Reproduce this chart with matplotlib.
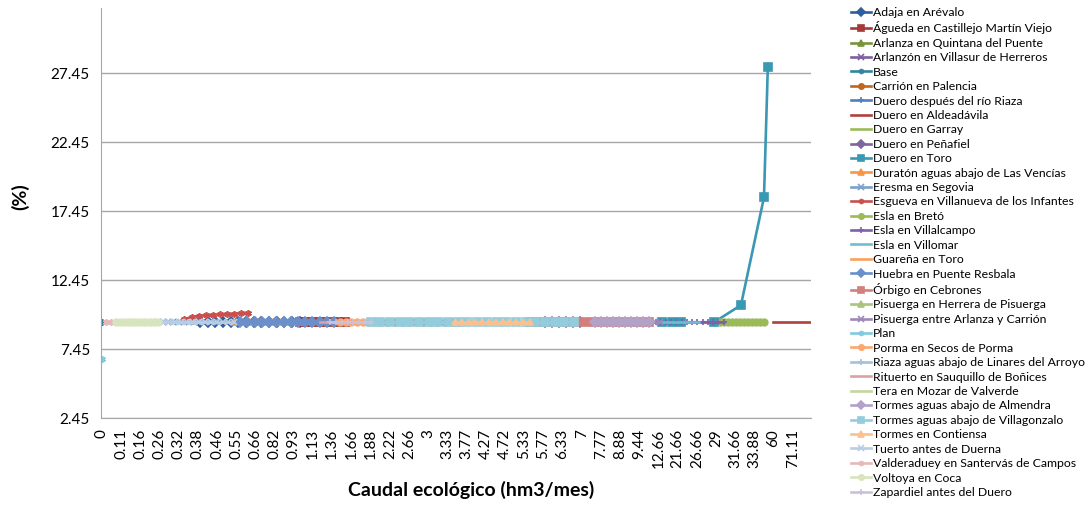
import numpy as np
import matplotlib.pyplot as plt

plt.rcParams['font.family'] = ['Lato', 'DejaVu Sans']

# Category labels shown on the x axis
x_labels = ["0", "0.11", "0.16", "0.26", "0.32", "0.38", "0.46", "0.55", "0.66",
            "0.82", "0.93", "1.13", "1.36", "1.66", "1.88", "2.22", "2.66", "3",
            "3.33", "3.77", "4.27", "4.72", "5.33", "5.77", "6.33", "7", "7.77",
            "8.88", "9.44", "12.66", "21.66", "26.66", "29", "31.66", "33.88",
            "60", "71.11"]

y_ticks = [2.45, 7.45, 12.45, 17.45, 22.45, 27.45]

series_names = [
    "Adaja en Arévalo", "Águeda en Castillejo Martín Viejo", "Arlanza en Quintana del Puente",
    "Arlanzón en Villasur de Herreros", "Base", "Carrión en Palencia",
    "Duero después del río Riaza", "Duero en Aldeadávila", "Duero en Garray",
    "Duero en Peñafiel", "Duero en Toro", "Duratón aguas abajo de Las Vencías",
    "Eresma en Segovia", "Esgueva en Villanueva de los Infantes", "Esla en Bretó",
    "Esla en Villalcampo", "Esla en Villomar", "Guareña en Toro",
    "Huebra en Puente Resbala", "Órbigo en Cebrones", "Pisuerga en Herrera de Pisuerga",
    "Pisuerga entre Arlanza y Carrión", "Plan", "Porma en Secos de Porma",
    "Riaza aguas abajo de Linares del Arroyo", "Rituerto en Sauquillo de Boñices",
    "Tera en Mozar de Valverde", "Tormes aguas abajo de Almendra",
    "Tormes aguas abajo de Villagonzalo", "Tormes en Contiensa", "Tuerto antes de Duerna",
    "Valderaduey en Santervás de Campos", "Voltoya en Coca", "Zapardiel antes del Duero",
]

series_colors = [
    "#2f5e9c", "#a33b38", "#77933c", "#7b5fa0", "#31859c", "#c0661e",
    "#4f81bd", "#b0403d", "#9bbb59", "#8064a2", "#3b98b3", "#f79646",
    "#7ba0cd", "#c9504d", "#9bbb59", "#7f5fa8", "#6fbdd1", "#f9a05b",
    "#6a8fcb", "#d27f7d", "#a9c47f", "#9d88b9", "#7ecbdf", "#fba76d",
    "#a7bfde", "#dca09f", "#c3d69b", "#b3a2c7", "#93cddd", "#fac090",
    "#b9cde5", "#e6b9b8", "#d7e4bd", "#ccc1da",
]

AST = (6, 2, 0)
series_markers = [
    "D", "s", "^", "x", AST, "o", "+", None, None,
    "D", "s", "^", "x", AST, "o", "+", None, None,
    "D", "s", "^", "x", AST, "o", "+", None, None,
    "D", "s", "^", "x", AST, "o", "+",
]

# Each run: first category position, last category position, values (%)
runs = {
    "Adaja en Arévalo": (5.1, 10.3, [9.4, 9.4, 9.4, 9.4, 9.4, 9.4, 9.4, 9.4, 9.4, 9.4, 9.4, 9.4, 9.4, 9.4]),
    "Águeda en Castillejo Martín Viejo": (10.3, 12.65, [9.4, 9.4, 9.4, 9.4, 9.4, 9.4, 9.4, 9.4]),
    "Arlanza en Quintana del Puente": (15.0, 16.6, [9.4, 9.4, 9.4, 9.4, 9.4, 9.4]),
    "Arlanzón en Villasur de Herreros": (25.9, 28.0, [9.4, 9.4, 9.4, 9.4, 9.4, 9.4, 9.4]),
    "Base": (0.0, 0.0, [9.4]),
    "Carrión en Palencia": (14.5, 18.6, [9.4, 9.4, 9.4, 9.4, 9.4, 9.4, 9.4, 9.4, 9.4, 9.4, 9.4, 9.4]),
    "Duero después del río Riaza": (7.2, 9.8, [9.4, 9.4, 9.4, 9.4, 9.4, 9.4, 9.4, 9.4]),
    "Duero en Aldeadávila": (34.95, 36.95, [9.4, 9.4, 9.4, 9.4]),
    "Duero en Garray": (15.3, 17.9, [9.4, 9.4, 9.4, 9.4, 9.4]),
    "Duero en Peñafiel": (23.1, 24.9, [9.4, 9.4, 9.4, 9.4, 9.4, 9.4]),
    "Duero en Toro": (29.2, 34.7, [9.4, 9.4, 9.4, 9.4, 10.64, 18.46, 27.9]),
    "Duratón aguas abajo de Las Vencías": (6.9, 11.35, [9.4, 9.4, 9.4, 9.4, 9.4, 9.4, 9.4, 9.4, 9.4, 9.4, 9.4, 9.4]),
    "Eresma en Segovia": (2.9, 5.9, [9.4, 9.4, 9.4, 9.4, 9.4, 9.4, 9.4, 9.4, 9.4, 9.4, 9.4, 9.4]),
    "Esgueva en Villanueva de los Infantes": (4.3, 7.6, [9.62, 9.78, 9.86, 9.9, 9.94, 9.97, 10.0, 10.02, 10.05, 10.08]),
    "Esla en Bretó": (32.2, 34.5, [9.4, 9.4, 9.4, 9.4, 9.4, 9.4, 9.4, 9.4, 9.4, 9.4, 9.4, 9.4]),
    "Esla en Villalcampo": (28.3, 32.4, [9.4, 9.4, 9.4, 9.4, 9.4, 9.4, 9.4, 9.4, 9.4, 9.4, 9.4, 9.4, 9.4, 9.4, 9.4, 9.4]),
    "Esla en Villomar": (29.1, 31.1, [9.4, 9.4, 9.4, 9.4]),
    "Guareña en Toro": (10.3, 11.9, [9.4, 9.4, 9.4, 9.4]),
    "Huebra en Puente Resbala": (7.2, 12.1, [9.4, 9.4, 9.4, 9.4, 9.4, 9.4, 9.4, 9.4, 9.4, 9.4, 9.4, 9.4, 9.4, 9.4]),
    "Órbigo en Cebrones": (22.3, 28.5, [9.4, 9.4, 9.4, 9.4, 9.4, 9.4, 9.4, 9.4, 9.4, 9.4, 9.4, 9.4, 9.4, 9.4]),
    "Pisuerga en Herrera de Pisuerga": (19.2, 20.2, [9.4, 9.4, 9.4, 9.4]),
    "Pisuerga entre Arlanza y Carrión": (26.7, 29.1, [9.4, 9.4, 9.4, 9.4, 9.4, 9.4, 9.4, 9.4]),
    "Plan": (0.0, 0.0, [6.7]),
    "Porma en Secos de Porma": (12.4, 14.2, [9.4, 9.4, 9.4, 9.4, 9.4, 9.4, 9.4]),
    "Riaza aguas abajo de Linares del Arroyo": (3.0, 5.1, [9.4, 9.4, 9.4, 9.4, 9.4, 9.4, 9.4, 9.4]),
    "Rituerto en Sauquillo de Boñices": (11.35, 12.4, [9.4, 9.4, 9.4]),
    "Tera en Mozar de Valverde": (0.7, 3.0, [9.4, 9.4, 9.4, 9.4]),
    "Tormes aguas abajo de Almendra": (25.7, 28.5, [9.4, 9.4, 9.4, 9.4, 9.4, 9.4, 9.4, 9.4, 9.4, 9.4]),
    "Tormes aguas abajo de Villagonzalo": (14.0, 24.6, [9.4, 9.4, 9.4, 9.4, 9.4, 9.4, 9.4, 9.4, 9.4, 9.4, 9.4,
                                                        9.4, 9.4, 9.4, 9.4, 9.4, 9.4, 9.4, 9.4, 9.4, 9.4, 9.4]),
    "Tormes en Contiensa": (18.4, 22.3, [9.4, 9.4, 9.4, 9.4, 9.4, 9.4, 9.4, 9.4, 9.4, 9.4, 9.4, 9.4]),
    "Tuerto antes de Duerna": (2.9, 6.9, [9.4, 9.4, 9.4, 9.4, 9.4, 9.4, 9.4, 9.4, 9.4, 9.4, 9.4, 9.4, 9.4, 9.4]),
    "Valderaduey en Santervás de Campos": (0.2, 0.7, [9.4, 9.4, 9.4]),
    "Voltoya en Coca": (0.75, 2.9, [9.4, 9.4, 9.4, 9.4, 9.4, 9.4, 9.4, 9.4, 9.4, 9.4, 9.4, 9.4]),
    "Zapardiel antes del Duero": (11.9, 14.0, [9.4, 9.4, 9.4, 9.4, 9.4, 9.4, 9.4, 9.4]),
}

# Duero en Toro points are not evenly spaced along the categories
toro_x = [29.2, 29.7, 30.2, 31.9, 33.3, 34.5, 34.7]

fig = plt.figure(figsize=(10.89, 5.07), dpi=100)
ax = fig.add_axes([101 / 1089, 89 / 507, 710 / 1089, 410 / 507])

for name, color, marker in zip(series_names, series_colors, series_markers):
    start, end, vals = runs[name]
    if name == "Duero en Toro":
        xs = toro_x
    else:
        xs = np.linspace(start, end, len(vals))
    ms = 5.5 if marker == "s" else 4.8
    ax.plot(xs, vals, color=color, lw=1.9, marker=marker, markersize=ms,
            markerfacecolor=color, markeredgecolor=color, markeredgewidth=1.2,
            label=name)

ax.set_xlim(-0.05, 36.95)
ax.set_ylim(2.45, 32.2)
ax.set_xticks(range(len(x_labels)))
ax.set_xticklabels(x_labels, rotation=90, fontsize=11)
ax.set_yticks(y_ticks)
ax.set_yticklabels([f"{v:.2f}" for v in y_ticks], fontsize=11)
ax.tick_params(length=0, pad=8)
ax.grid(axis="y", color="#a6a6a6", lw=1)
ax.set_axisbelow(True)
for side in ["top", "right"]:
    ax.spines[side].set_visible(False)
ax.spines["left"].set_color("#a6a6a6")
ax.spines["bottom"].set_color("#a6a6a6")

fig.text(20 / 1089, 1 - 197 / 507, "(%)", rotation=90, fontsize=14,
         fontweight="bold", ha="center", va="center")
fig.text(471 / 1089, 1 - 490 / 507, "Caudal ecológico (hm3/mes)", fontsize=14,
         fontweight="bold", ha="center", va="center")

fig.legend(loc="upper left", bbox_to_anchor=(851 / 1089, 1 - 7 / 507), frameon=False,
           fontsize=8.8, handlelength=1.6, handletextpad=0.2, labelspacing=0.28,
           markerscale=0.8, borderpad=0, borderaxespad=0)

fig.savefig("out.png", dpi=100)
